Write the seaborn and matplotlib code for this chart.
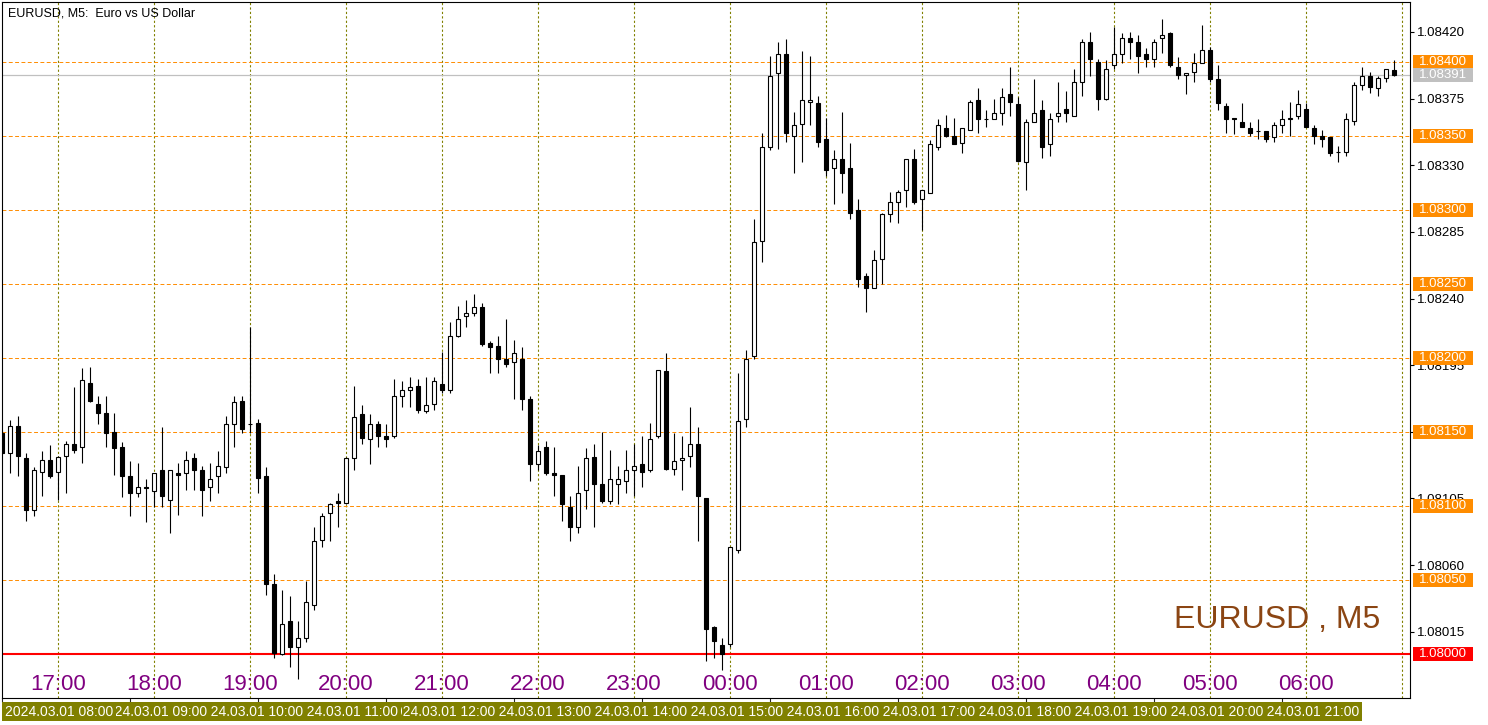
import numpy as np
import pandas as pd
import seaborn as sns
import matplotlib.pyplot as plt
from matplotlib.patches import Rectangle
from matplotlib.transforms import blended_transform_factory

# EURUSD M5 bars, quoted in points (0.00001) above 1.08000
base = 1.08000

opens = [149, 136, 154, 132, 97, 123, 131, 123, 134, 142, 140, 183, 169, 163, 150, 140, 120, 109, 113, 110,
         124, 104, 122, 122, 132, 124, 113, 120, 126, 155, 171, 155, 156, 120, 47, 0, 22, 5, 11, 33,
         77, 95, 103, 102, 132, 162, 145, 155, 147, 147, 174, 178, 181, 164, 169, 182, 178, 215, 228, 230,
         234, 210, 208, 199, 197, 199, 172, 128, 140, 122, 121, 99, 86, 111, 133, 115, 103, 115, 117, 124,
         128, 124, 147, 191, 125, 131, 134, 142, 105, 18, 6, 7, 70, 159, 201, 279, 342, 392, 405, 350,
         358, 373, 372, 348, 328, 334, 328, 300, 255, 247, 267, 297, 305, 313, 334, 307, 311, 342, 355, 350,
         345, 354, 374, 361, 361, 365, 378, 371, 332, 359, 367, 344, 363, 368, 363, 386, 413, 400, 375, 398,
         405, 416, 413, 405, 402, 416, 419, 396, 391, 393, 399, 408, 388, 370, 362, 359, 355, 353, 353, 349,
         357, 361, 363, 368, 355, 350, 349, 339, 339, 360, 384, 390, 382, 389, 394]
highs = [151, 158, 161, 136, 126, 137, 141, 134, 144, 180, 193, 194, 174, 174, 163, 143, 130, 129, 118, 122,
         153, 124, 129, 137, 136, 127, 129, 137, 161, 174, 174, 221, 159, 126, 54, 43, 39, 22, 49, 86,
         95, 102, 109, 133, 181, 168, 162, 157, 155, 186, 184, 187, 186, 187, 187, 204, 224, 235, 239, 243,
         237, 211, 215, 226, 212, 207, 174, 141, 144, 140, 121, 107, 127, 139, 142, 150, 138, 127, 138, 142,
         147, 156, 192, 203, 149, 147, 167, 153, 105, 19, 11, 72, 190, 205, 294, 352, 404, 413, 415, 366,
         407, 404, 377, 362, 340, 366, 345, 307, 257, 273, 298, 312, 313, 334, 341, 313, 347, 361, 364, 362,
         355, 374, 382, 367, 375, 382, 396, 376, 361, 388, 374, 365, 386, 380, 395, 415, 420, 402, 401, 423,
         419, 420, 418, 409, 415, 429, 420, 403, 392, 406, 425, 410, 398, 372, 362, 372, 359, 361, 353, 359,
         367, 373, 381, 372, 357, 354, 349, 343, 365, 386, 396, 393, 390, 395, 401]
lows = [135, 122, 120, 90, 93, 107, 119, 104, 109, 136, 129, 170, 155, 140, 121, 106, 93, 106, 89, 99,
        99, 82, 94, 111, 111, 93, 103, 109, 122, 140, 149, 149, 109, 40, -3, -1, -9, -17, 8, 30,
        72, 76, 86, 101, 124, 142, 128, 140, 140, 146, 167, 167, 163, 163, 165, 176, 176, 214, 221, 228,
        208, 190, 190, 194, 172, 165, 117, 124, 121, 107, 90, 76, 82, 98, 86, 102, 101, 101, 109, 107,
        113, 123, 146, 124, 121, 111, 126, 76, -5, -3, -11, 5, 68, 153, 199, 265, 340, 341, 346, 325,
        332, 357, 342, 323, 304, 311, 294, 248, 231, 247, 250, 292, 291, 302, 304, 286, 311, 340, 349, 344,
        338, 354, 352, 356, 361, 357, 363, 332, 313, 359, 335, 336, 359, 359, 363, 377, 390, 367, 374, 395,
        399, 402, 392, 396, 396, 406, 396, 388, 378, 386, 399, 386, 367, 352, 351, 356, 350, 348, 346, 346,
        352, 350, 361, 356, 344, 342, 336, 332, 336, 357, 381, 379, 377, 386, 390]
closes = [136, 154, 134, 97, 124, 131, 120, 133, 142, 138, 185, 171, 163, 149, 139, 120, 109, 113, 112, 122,
          107, 124, 121, 131, 124, 111, 118, 127, 155, 170, 152, 155, 119, 47, 1, 20, 5, 11, 35, 76,
          93, 101, 102, 132, 160, 146, 155, 147, 145, 174, 178, 180, 165, 168, 184, 178, 215, 226, 230, 234,
          209, 207, 199, 196, 203, 172, 128, 137, 122, 121, 101, 86, 109, 132, 115, 103, 118, 118, 124, 127,
          123, 145, 192, 125, 130, 132, 142, 107, 17, 9, 0, 72, 157, 199, 278, 342, 390, 405, 352, 357,
          374, 374, 346, 327, 334, 325, 298, 253, 247, 266, 297, 305, 312, 334, 305, 313, 344, 357, 350, 344,
          355, 373, 361, 361, 365, 376, 373, 333, 359, 365, 342, 361, 365, 365, 386, 413, 402, 375, 395, 405,
          416, 413, 404, 402, 413, 418, 398, 391, 392, 399, 408, 388, 372, 361, 361, 356, 352, 353, 348, 357,
          361, 362, 371, 356, 350, 348, 338, 339, 361, 384, 390, 383, 389, 395, 391]

hour_labels = ['17:00', '18:00', '19:00', '20:00', '21:00', '22:00', '23:00',
               '00:00', '01:00', '02:00', '03:00', '04:00', '05:00', '06:00']
strip_labels = ['2024.03.01 08:00', '2024.03.01 09:00', '2024.03.01 10:00', '2024.03.01 11:00',
                '2024.03.01 12:00', '2024.03.01 13:00', '2024.03.01 14:00', '2024.03.01 15:00',
                '2024.03.01 16:00', '2024.03.01 17:00', '2024.03.01 18:00', '2024.03.01 19:00',
                '2024.03.01 20:00', '2024.03.01 21:00']
axis_ticks = [1.08015, 1.08060, 1.08105, 1.08150, 1.08195, 1.08240, 1.08285, 1.08330, 1.08375, 1.08420]
levels = [1.08050, 1.08100, 1.08150, 1.08200, 1.08250, 1.08300, 1.08350, 1.08400]
last_price = 1.08391
red_level = 1.08000

df = pd.DataFrame({'open': opens, 'high': highs, 'low': lows, 'close': closes})
df = base + df / 100000.0
df['bar'] = np.arange(len(df))
df['up'] = df['close'] >= df['open']

sns.set_theme(style='white')
plt.rcParams['font.family'] = ['Liberation Sans', 'DejaVu Sans']

W, H = 1488, 725
fig = plt.figure(figsize=(W / 100, H / 100), dpi=100)
ax = fig.add_axes([2 / W, 27 / H, 1408 / W, 696 / H])
ax.set_xlim(0, 176)
ax.set_ylim(1.079703, 1.084402)

# grid: hourly dotted verticals, orange dashed levels
for i in range(7, 176, 12):
    ax.axvline(i, color='#808000', ls=(0, (2, 2)), lw=0.8, zorder=1)
for lv in levels:
    ax.axhline(lv, color='#FF8C00', ls=(0, (4, 2.5)), lw=0.7, zorder=1)
ax.axhline(last_price, color='#C0C0C0', lw=0.9, zorder=1)
ax.axhline(red_level, color='red', lw=1.5, zorder=2)

# candles
ax.vlines(df['bar'], df['low'], df['high'], color='black', lw=0.8, zorder=3)
body_low = df[['open', 'close']].min(axis=1)
body_h = np.maximum((df['close'] - df['open']).abs(), 0.000002)
ax.bar(df['bar'], body_h, bottom=body_low, width=0.5,
       color=np.where(df['up'], 'white', 'black'), edgecolor='black', linewidth=0.8, zorder=4)

# hour labels along the bottom
tr_x = blended_transform_factory(ax.transData, ax.transAxes)
for k, lab in enumerate(hour_labels):
    ax.text(7 + 12 * k, 0.02, lab, transform=tr_x, ha='center', va='center',
            fontsize=16, color='#800080', zorder=6)

# right price scale
ax.yaxis.tick_right()
ax.set_yticks(axis_ticks)
ax.set_yticklabels([f'{v:.5f}' for v in axis_ticks])
ax.tick_params(axis='y', direction='out', length=3, width=0.8, pad=2, labelsize=9.5,
               colors='black', left=False, right=True)
ax.set_xticks(range(0, 161, 16))
ax.set_xticklabels([])
ax.tick_params(axis='x', direction='out', length=3, width=0.8, bottom=True)
for s in ax.spines.values():
    s.set_color('black')
    s.set_linewidth(0.8)

# level boxes on the price scale
tr_y = blended_transform_factory(ax.transAxes, ax.transData)
box_h = 14 / 148095


def level_box(value, colour):
    ax.add_patch(Rectangle((1411 / 1408, value - box_h / 2), 60 / 1408, box_h, transform=tr_y,
                           facecolor=colour, edgecolor='none', clip_on=False, zorder=10))
    ax.text(1441 / 1408, value, f'{value:.5f}', transform=tr_y, ha='center', va='center',
            fontsize=9.5, color='white', clip_on=False, zorder=11)


for lv in levels:
    level_box(lv, '#FF8C00')
level_box(last_price, '#C0C0C0')
level_box(red_level, '#FF0000')

# text
fig.text(8 / W, 1 - 13 / H, 'EURUSD, M5:  Euro vs US Dollar', fontsize=9, va='center', color='black')
fig.text(1380 / W, 1 - 620 / H, 'EURUSD , M5', fontsize=23, ha='right', va='center', color='#8B4513')

# time scale strip: earlier labels sit on top of later ones
for k, lab in enumerate(strip_labels):
    x0 = 5 if k == 0 else 96 * k + 3
    fig.text(x0 / W, 1 - 711.5 / H, lab, fontsize=10, color='white', ha='left', va='center',
             bbox=dict(boxstyle='square,pad=0.2', facecolor='#808000', edgecolor='none'),
             zorder=50 - k)

fig.savefig('out.png', dpi=100, facecolor='white')
